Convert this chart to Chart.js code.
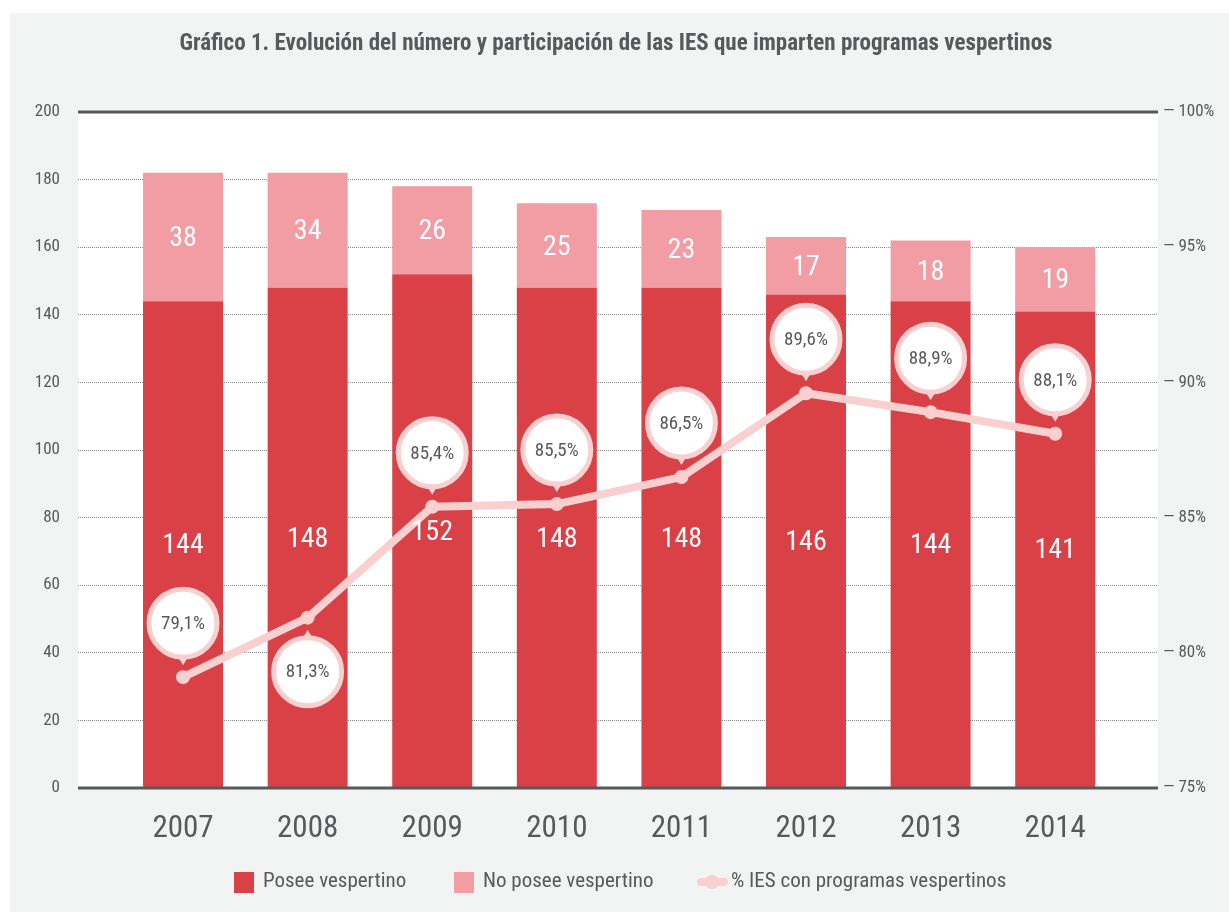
<!DOCTYPE html>
<html>
<head>
<meta charset="utf-8">
<script src="https://cdn.jsdelivr.net/npm/chart.js@4.4.1/dist/chart.umd.min.js"></script>
<style>
  html, body { margin: 0; padding: 0; background: #fff; }
  canvas { display: block; }
</style>
</head>
<body>
<canvas id="chart" width="1229" height="912"></canvas>
<script>
// ─── DATA ─────────────────────────────────────────────────────────────────────
const years = ['2007', '2008', '2009', '2010', '2011', '2012', '2013', '2014'];
const poseeVespertino = [144, 148, 152, 148, 148, 146, 144, 141];
const noPoseeVespertino = [38, 34, 26, 25, 23, 17, 18, 19];
const pctIES = [79.1, 81.3, 85.4, 85.5, 86.5, 89.6, 88.9, 88.1];
const leftTicks = [0, 20, 40, 60, 80, 100, 120, 140, 160, 180, 200];
const rightTicks = [75, 80, 85, 90, 95, 100];

const TITLE = 'Gráfico 1. Evolución del número y participación de las IES que imparten programas vespertinos';
const LEGEND = ['Posee vespertino', 'No posee vespertino', '% IES con programas vespertinos'];

// ─── STYLE ────────────────────────────────────────────────────────────────────
const FONT = "'Liberation Sans Narrow', 'Roboto Condensed', 'Arial Narrow', sans-serif";
const TEXT = '#58595b';
const RED = '#d94146';
const PINK = '#f29ca3';
const LINE = '#f9d0cf';
const BG = '#f2f3f3';
// callout above (-1) or below (+1) the point
const calloutSide = [-1, 1, -1, -1, -1, -1, -1, -1];

const fmtPct = v => v.toFixed(1).replace('.', ',') + '%';

// Paints page background, white plot area, title and legend
const frame = {
  id: 'frame',
  beforeDraw(chart) {
    const { ctx, chartArea: a } = chart;
    ctx.save();
    ctx.fillStyle = '#fff';
    ctx.fillRect(0, 0, chart.width, chart.height);
    ctx.fillStyle = BG;
    ctx.fillRect(10, 13, chart.width - 10, chart.height - 13);
    ctx.fillStyle = '#fff';
    ctx.fillRect(a.left, a.top, a.right - a.left, a.bottom - a.top);

    // title
    ctx.fillStyle = TEXT;
    ctx.font = 'bold 23px ' + FONT;
    ctx.textAlign = 'center';
    ctx.textBaseline = 'middle';
    ctx.fillText(TITLE, 616, 44);

    // legend
    ctx.font = '21px ' + FONT;
    ctx.textAlign = 'left';
    const ly = 882;
    ctx.fillStyle = RED;
    ctx.fillRect(234, ly - 10, 20, 21);
    ctx.fillStyle = TEXT;
    ctx.fillText(LEGEND[0], 263, ly);
    ctx.fillStyle = PINK;
    ctx.fillRect(454, ly - 10, 20, 21);
    ctx.fillStyle = TEXT;
    ctx.fillText(LEGEND[1], 483, ly);
    ctx.strokeStyle = LINE;
    ctx.lineWidth = 8;
    ctx.lineCap = 'round';
    ctx.beginPath();
    ctx.moveTo(701, ly);
    ctx.lineTo(724, ly);
    ctx.stroke();
    ctx.fillStyle = LINE;
    ctx.beginPath();
    ctx.arc(712, ly, 7, 0, Math.PI * 2);
    ctx.fill();
    ctx.fillStyle = TEXT;
    ctx.fillText(LEGEND[2], 731, ly);
    ctx.restore();
  }
};

// Solid top/bottom rules, bar values and percentage callouts
const annotations = {
  id: 'annotations',
  afterDatasetsDraw(chart) {
    const { ctx, chartArea: a } = chart;
    ctx.save();
    ctx.strokeStyle = TEXT;
    ctx.lineWidth = 3;
    [a.top, a.bottom].forEach(y => {
      ctx.beginPath();
      ctx.moveTo(a.left, y);
      ctx.lineTo(a.right, y);
      ctx.stroke();
    });

    // values inside bars
    ctx.fillStyle = '#fff';
    ctx.font = '28px ' + FONT;
    ctx.textAlign = 'center';
    ctx.textBaseline = 'middle';
    [0, 1].forEach(di => {
      const ds = chart.data.datasets[di];
      chart.getDatasetMeta(di).data.forEach((bar, i) => {
        ctx.fillText(String(ds.data[i].y), bar.x, (bar.y + bar.base) / 2 + 2);
      });
    });

    // callouts for the line
    const pts = chart.getDatasetMeta(2).data;
    pts.forEach((p, i) => {
      const s = calloutSide[i];
      const cx = p.x;
      const cy = p.y + s * 54;
      const r = 34;
      ctx.fillStyle = LINE;
      ctx.beginPath();
      ctx.moveTo(cx - 6, cy - s * (r - 2));
      ctx.lineTo(cx + 6, cy - s * (r - 2));
      ctx.lineTo(cx, cy - s * (r + 8));
      ctx.closePath();
      ctx.fill();
      ctx.beginPath();
      ctx.arc(cx, cy, r, 0, Math.PI * 2);
      ctx.fillStyle = '#fff';
      ctx.fill();
      ctx.lineWidth = 5;
      ctx.strokeStyle = LINE;
      ctx.stroke();
      ctx.fillStyle = TEXT;
      ctx.font = '19px ' + FONT;
      ctx.fillText(fmtPct(pctIES[i]), cx, cy + 1);
    });
    ctx.restore();
  }
};

const xy = arr => arr.map((v, i) => ({ x: i, y: v }));

new Chart(document.getElementById('chart'), {
  data: {
    datasets: [
      {
        type: 'bar',
        label: LEGEND[0],
        data: xy(poseeVespertino),
        backgroundColor: RED,
        yAxisID: 'y',
        order: 2,
        barPercentage: 0.642,
        categoryPercentage: 1
      },
      {
        type: 'bar',
        label: LEGEND[1],
        data: xy(noPoseeVespertino),
        backgroundColor: PINK,
        yAxisID: 'y',
        order: 2,
        barPercentage: 0.642,
        categoryPercentage: 1
      },
      {
        type: 'line',
        label: LEGEND[2],
        data: xy(pctIES),
        borderColor: LINE,
        backgroundColor: LINE,
        borderWidth: 8,
        pointRadius: 7,
        pointBackgroundColor: LINE,
        pointBorderWidth: 0,
        yAxisID: 'y1',
        order: 1
      }
    ]
  },
  options: {
    responsive: false,
    animation: false,
    layout: { padding: { top: 112, left: 0, right: 0, bottom: 0 } },
    plugins: { legend: { display: false }, tooltip: { enabled: false } },
    scales: {
      x: {
        type: 'linear',
        stacked: true,
        offset: false,
        min: -0.843,
        max: 7.825,
        grid: { display: false, drawTicks: false },
        border: { display: false },
        afterBuildTicks: s => { s.ticks = years.map((_, i) => ({ value: i })); },
        afterFit: s => { s.height = 124; },
        ticks: {
          padding: 23,
          color: TEXT,
          font: { family: FONT, size: 31 },
          callback: v => years[v]
        }
      },
      y: {
        position: 'left',
        stacked: true,
        min: 0,
        max: 200,
        afterBuildTicks: s => { s.ticks = leftTicks.map(v => ({ value: v })); },
        afterFit: s => { s.width = 78; },
        grid: { color: '#8a8a8a', lineWidth: 1, drawTicks: false },
        border: { display: false, dash: [1, 1] },
        ticks: {
          padding: 18,
          color: TEXT,
          font: { family: FONT, size: 17 }
        }
      },
      y1: {
        position: 'right',
        min: 75,
        max: 100,
        afterBuildTicks: s => { s.ticks = rightTicks.map(v => ({ value: v })); },
        afterFit: s => { s.width = 71; },
        grid: { display: false, drawTicks: false },
        border: { display: false },
        ticks: {
          padding: 5,
          color: TEXT,
          font: { family: FONT, size: 17 },
          callback: v => '\u2014 ' + v + '%'
        }
      }
    }
  },
  plugins: [frame, annotations]
});
</script>
</body>
</html>
